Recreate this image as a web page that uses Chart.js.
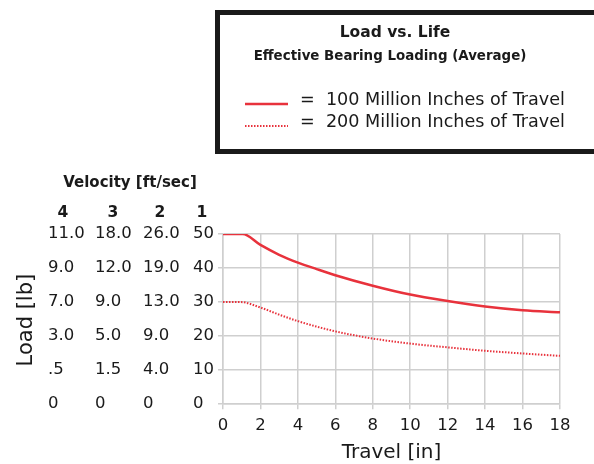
<!DOCTYPE html>
<html>
<head>
<meta charset="utf-8">
<script src="https://cdn.jsdelivr.net/npm/chart.js@4/dist/chart.umd.min.js"></script>
<style>
  html, body { margin: 0; padding: 0; background: #fff; }
  #wrap { width: 594px; height: 464px; position: relative; }
</style>
</head>
<body>
<div id="wrap"><canvas id="chart"></canvas></div>
<script>
;(function () {
	"use strict"

	// Travel [in] vs Load [lb].
	var TRAVEL_100 = [0, 1.05, 2, 3, 4, 5, 6, 8, 10, 12, 14, 16, 18]
	var LOAD_100 = [50, 50, 46.8, 43.9, 41.6, 39.7, 37.9, 34.8, 32.2, 30.3, 28.7, 27.6, 27.0]
	var TRAVEL_200 = [0, 0.95, 2, 3, 4, 6, 8, 10, 12, 14, 16, 18]
	var LOAD_200 = [30, 30, 28.4, 26.3, 24.4, 21.4, 19.3, 17.8, 16.7, 15.7, 14.9, 14.2]

	// Load tick columns, bottom (0) to top (50), one per velocity.
	var VEL_HEADERS = ["1", "2", "3", "4"]
	var COL_V1 = ["0", "10", "20", "30", "40", "50"]
	var COL_V2 = ["0", "4.0", "9.0", "13.0", "19.0", "26.0"]
	var COL_V3 = ["0", "1.5", "5.0", "9.0", "12.0", "18.0"]
	var COL_V4 = ["0", ".5", "3.0", "7.0", "9.0", "11.0"]

	var TITLE = "Load vs. Life"
	var SUBTITLE = "Effective Bearing Loading (Average)"
	var LEGEND_100 = "=  100 Million Inches of Travel"
	var LEGEND_200 = "=  200 Million Inches of Travel"
	var X_TITLE = "Travel [in]"
	var Y_TITLE = "Load [lb]"
	var VEL_TITLE = "Velocity [ft/sec]"

	var RED = "#e8323c"
	var GRID = "#cfcfcf"
	var TEXT = "#1a1a1a"
	var FONT = "'DejaVu Sans', sans-serif"

	function pairs(xs, ys) {
		return xs.map(function (x, i) {
			return { x: x, y: ys[i] }
		})
	}

	function colAxis(labels, weight, width, main) {
		return {
			type: "linear",
			position: "left",
			min: 0,
			max: 50,
			weight: weight,
			grid: main
				? { color: GRID, lineWidth: 1.5, tickLength: 5 }
				: { display: false },
			border: main ? { color: GRID, width: 1.5 } : { display: false },
			ticks: {
				stepSize: 10,
				crossAlign: "far",
				color: TEXT,
				font: { family: FONT, size: 16.5 },
				callback: function (v, i) {
					return labels[i]
				},
			},
			afterFit: function (scale) {
				scale.width = width
			},
		}
	}

	var extras = {
		id: "extras",
		afterDraw: function (chart) {
			var ctx = chart.ctx
			var s = chart.scales
			ctx.save()

			// legend box
			ctx.strokeStyle = "#1a1a1a"
			ctx.lineWidth = 5
			ctx.strokeRect(217.5, 12.5, 420, 139)

			ctx.fillStyle = TEXT
			ctx.textAlign = "center"
			ctx.textBaseline = "middle"
			ctx.font = "bold 15.5px " + FONT
			ctx.fillText(TITLE, 395, 33)
			ctx.font = "bold 13.4px " + FONT
			ctx.fillText(SUBTITLE, 390, 57)

			ctx.strokeStyle = RED
			ctx.lineWidth = 2.5
			ctx.beginPath()
			ctx.moveTo(245, 104)
			ctx.lineTo(288, 104)
			ctx.stroke()
			ctx.lineWidth = 2
			ctx.setLineDash([1.5, 1.5])
			ctx.beginPath()
			ctx.moveTo(245, 126)
			ctx.lineTo(288, 126)
			ctx.stroke()
			ctx.setLineDash([])

			ctx.textAlign = "left"
			ctx.font = "17.6px " + FONT
			ctx.fillText(LEGEND_100, 300, 100)
			ctx.fillText(LEGEND_200, 300, 122)

			// velocity headers above each tick column
			ctx.font = "bold 15.5px " + FONT
			ctx.textAlign = "center"
			var cx = [202, 160, 113, 63]
			VEL_HEADERS.forEach(function (h, i) {
				ctx.fillText(h, cx[i], 213)
			})
			ctx.font = "bold 15px " + FONT
			ctx.fillText(VEL_TITLE, 130, 183)

			// rotated y title
			ctx.font = "21px " + FONT
			ctx.translate(27, (s.y.top + s.y.bottom) / 2 + 1)
			ctx.rotate(-Math.PI / 2)
			ctx.fillText(Y_TITLE, 0, 0)
			ctx.restore()
		},
	}

	new Chart(document.getElementById("chart"), {
		type: "line",
		data: {
			datasets: [
				{
					label: "100 Million Inches of Travel",
					data: pairs(TRAVEL_100, LOAD_100),
					borderColor: RED,
					borderWidth: 2.5,
					pointRadius: 0,
					cubicInterpolationMode: "monotone",
					yAxisID: "y",
				},
				{
					label: "200 Million Inches of Travel",
					data: pairs(TRAVEL_200, LOAD_200),
					borderColor: RED,
					borderWidth: 2,
					borderDash: [1.5, 1.5],
					pointRadius: 0,
					cubicInterpolationMode: "monotone",
					yAxisID: "y",
				},
			],
		},
		options: {
			responsive: true,
			maintainAspectRatio: false,
			animation: false,
			layout: { padding: { top: 234, left: 48, right: 34, bottom: 1 } },
			plugins: { legend: { display: false }, tooltip: { enabled: false } },
			scales: {
				x: {
					type: "linear",
					min: 0,
					max: 18,
					grid: { color: GRID, lineWidth: 1.5, tickLength: 5 },
					border: { color: GRID, width: 1.5 },
					ticks: {
						stepSize: 2,
						color: TEXT,
						font: { family: FONT, size: 16.5 },
						padding: 7,
					},
					title: {
						display: true,
						text: X_TITLE,
						color: TEXT,
						font: { family: FONT, size: 20, lineHeight: 1 },
						padding: { top: 0, bottom: 0 },
					},
				},
				y: colAxis(COL_V1, 0, 30, true),
				y2: colAxis(COL_V2, 1, 50, false),
				y3: colAxis(COL_V3, 2, 48, false),
				y4: colAxis(COL_V4, 3, 47, false),
			},
		},
		plugins: [extras],
	})
})()
</script>
</body>
</html>
